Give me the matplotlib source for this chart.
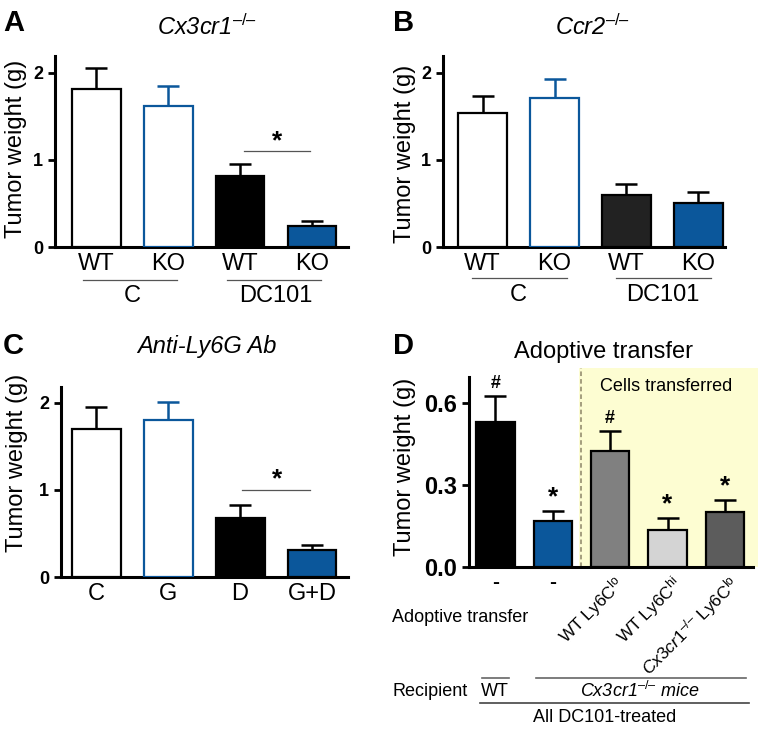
import matplotlib.pyplot as plt
from matplotlib.patches import Rectangle

plt.rcParams['font.family'] = ['Liberation Sans', 'DejaVu Sans']
plt.rcParams['mathtext.fontset'] = 'custom'
plt.rcParams['mathtext.rm'] = 'Liberation Sans'
plt.rcParams['mathtext.it'] = 'Liberation Sans:italic'
plt.rcParams['mathtext.bf'] = 'Liberation Sans:bold'

KO_SUP = r'$^{\text{–/–}}$'

# ---- data ----
# A: Cx3cr1-/-
a_ticks = ['WT', 'KO', 'WT', 'KO']
a_groups = ['C', 'DC101']
a_means = [1.82, 1.62, 0.82, 0.24]
a_errs = [0.24, 0.23, 0.13, 0.06]

# B: Ccr2-/-
b_ticks = ['WT', 'KO', 'WT', 'KO']
b_groups = ['C', 'DC101']
b_means = [1.54, 1.71, 0.60, 0.51]
b_errs = [0.19, 0.22, 0.12, 0.12]

# C: Anti-Ly6G Ab
c_ticks = ['C', 'G', 'D', 'G+D']
c_means = [1.70, 1.80, 0.68, 0.31]
c_errs = [0.25, 0.21, 0.15, 0.06]

# D: Adoptive transfer
d_ticks = ['-', '-', r'WT Ly6C$^{\text{lo}}$', r'WT Ly6C$^{\text{hi}}$',
           r'$\mathit{Cx3cr1}^{\text{–/–}}$ Ly6C$^{\text{lo}}$']
d_means = [0.530, 0.168, 0.424, 0.135, 0.200]
d_errs = [0.095, 0.037, 0.074, 0.045, 0.045]
d_marks = ['#', '*', '#', '*', '*']

BLUE = '#0b579b'
W, H = 762, 738


def px(x, y):
    # pixel position (from top-left) -> figure fraction
    return x / W, 1 - y / H


def make_axes(fig, left, right, bottom, top):
    x0, y0 = px(left, bottom)
    x1, y1 = px(right, top)
    ax = fig.add_axes([x0, y0, x1 - x0, y1 - y0])
    for s in ['top', 'right']:
        ax.spines[s].set_visible(False)
    for s in ['left', 'bottom']:
        ax.spines[s].set_linewidth(2.2)
    ax.tick_params(axis='y', direction='out', length=5, width=2)
    ax.tick_params(axis='x', length=0, labelbottom=False)
    return ax


def draw_bars(ax, means, errs, faces, edges, ecolors, width, capsize, lw=1.6):
    xs = range(len(means))
    for x, m, e, fc, ec, erc in zip(xs, means, errs, faces, edges, ecolors):
        ax.errorbar([x], [m], yerr=[[0], [e]], fmt='none', ecolor=erc,
                    elinewidth=1.8, capsize=capsize, capthick=1.8, zorder=2)
        ax.bar(x, m, width=width, color=fc, edgecolor=ec, linewidth=lw, zorder=3)


def bold_ticks(ax, ticks, labels, size=13):
    ax.set_yticks(ticks)
    ax.set_yticklabels(labels, fontweight='bold', fontsize=size)


fig = plt.figure(figsize=(W / 100, H / 100), dpi=100)

two_face = ['white', 'white', 'black', BLUE]
two_edge = ['black', BLUE, 'black', 'black']
two_err = ['black', BLUE, 'black', 'black']

# ---- panel A ----
axA = make_axes(fig, 55, 348, 247, 55.6)
draw_bars(axA, a_means, a_errs, two_face, two_edge, two_err, 0.68, 8)
axA.set_xlim(-0.57, 3.5)
axA.set_ylim(0, 2.2)
bold_ticks(axA, [0, 1, 2], ['0', '1', '2'])
for i, t in enumerate(a_ticks):
    axA.text(i, -0.2, t, ha='center', va='center', fontsize=17, clip_on=False)
for g, name in enumerate(a_groups):
    x0 = 2 * g
    axA.plot([x0 - 0.18, x0 + 1.13], [-0.38, -0.38], color='#555555', lw=0.9, clip_on=False)
    axA.text(x0 + 0.5, -0.56, name, ha='center', va='center', fontsize=17, clip_on=False)
axA.plot([2.05, 2.97], [1.1, 1.1], color='#555555', lw=0.9)
axA.text(2.51, 1.08, '*', ha='center', va='bottom', fontsize=19, fontweight='bold')

# ---- panel B ----
axB = make_axes(fig, 443, 725, 247, 55.6)
b_face = ['white', 'white', '#222222', BLUE]
draw_bars(axB, b_means, b_errs, b_face, two_edge, two_err, 0.68, 8)
axB.set_xlim(-0.55, 3.37)
axB.set_ylim(0, 2.2)
bold_ticks(axB, [0, 1, 2], ['0', '1', '2'])
for i, t in enumerate(b_ticks):
    axB.text(i, -0.2, t, ha='center', va='center', fontsize=17, clip_on=False)
for g, name in enumerate(b_groups):
    x0 = 2 * g
    axB.plot([x0 - 0.15, x0 + 1.18], [-0.36, -0.36], color='#555555', lw=0.9, clip_on=False)
    axB.text(x0 + 0.5, -0.55, name, ha='center', va='center', fontsize=17, clip_on=False)

# ---- panel C ----
axC = make_axes(fig, 61, 348, 577, 387)
draw_bars(axC, c_means, c_errs, two_face, two_edge, two_err, 0.68, 8)
axC.set_xlim(-0.49, 3.5)
axC.set_ylim(0, 2.18)
bold_ticks(axC, [0, 1, 2], ['0', '1', '2'])
for i, t in enumerate(c_ticks):
    axC.text(i, -0.19, t, ha='center', va='center', fontsize=17, clip_on=False)
axC.plot([2.03, 2.97], [1.0, 1.0], color='#555555', lw=0.9)
axC.text(2.51, 0.98, '*', ha='center', va='bottom', fontsize=19, fontweight='bold')

# ---- panel D ----
axD = make_axes(fig, 469, 753, 567, 377)
d_face = ['black', BLUE, '#808080', '#d4d4d4', '#5c5c5c']
d_edge = ['black'] * 5
draw_bars(axD, d_means, d_errs, d_face, d_edge, d_edge, 0.67, 8)
axD.set_xlim(-0.46, 4.49)
axD.set_ylim(0, 0.695)
bold_ticks(axD, [0, 0.3, 0.6], ['0.0', '0.3', '0.6'], size=17)
axD.add_patch(Rectangle((1.45, 0), 3.12, 0.728, facecolor='#fdfdd2',
                        edgecolor='none', zorder=0, clip_on=False))
axD.plot([1.5, 1.5], [0, 0.728], color='#8c8468', lw=1.1, ls=(0, (3, 2)),
         zorder=1, clip_on=False)
axD.text(2.97, 0.66, 'Cells transferred', ha='center', va='center', fontsize=13)
for i, (m, e, mk) in enumerate(zip(d_means, d_errs, d_marks)):
    axD.annotate(mk, (i, m + e), xytext=(0, 1 if mk == '*' else 3),
                 textcoords='offset points', ha='center', va='bottom',
                 fontsize=19 if mk == '*' else 13, fontweight='bold')
for i, t in enumerate(d_ticks):
    if t == '-':
        axD.text(i, -0.055, t, ha='center', va='center', fontsize=15,
                 fontweight='bold', clip_on=False)
    else:
        axD.text(i + 0.05, -0.022, t, ha='right', va='top', rotation=45,
                 rotation_mode='anchor', fontsize=12.5, clip_on=False)

# recipient rows
axD.plot([-0.24, 0.24], [-0.405, -0.405], color='#666666', lw=1.2, clip_on=False)
axD.plot([0.71, 4.36], [-0.405, -0.405], color='#666666', lw=1.2, clip_on=False)
axD.plot([-0.27, 4.42], [-0.499, -0.499], color='#444444', lw=1.2, clip_on=False)

# ---- titles, labels, panel letters ----
for (x, y), t, st in [((207, 27), 'Cx3cr1' + KO_SUP, 'italic'),
                      ((593, 27), 'Ccr2' + KO_SUP, 'italic'),
                      ((207, 347), 'Anti-Ly6G Ab', 'italic'),
                      ((603, 352), 'Adoptive transfer', 'normal')]:
    fig.text(*px(x, y), t, ha='center', va='center', fontsize=17, style=st)

for (x, y) in [(16, 149), (405, 154), (17, 463), (405, 467)]:
    fig.text(*px(x, y), 'Tumor weight (g)', rotation=90, ha='center', va='center',
             fontsize=17)

for (x, y), t in [((3, 23), 'A'), ((393, 23), 'B'), ((3, 346), 'C'), ((393, 346), 'D')]:
    fig.text(*px(x, y), t, ha='left', va='center', fontsize=21, fontweight='heavy')

fig.text(*px(392, 618), 'Adoptive transfer', ha='left', va='center', fontsize=13)
fig.text(*px(392, 691), 'Recipient', ha='left', va='center', fontsize=13)
fig.text(*px(495, 691), 'WT', ha='center', va='center', fontsize=13)
fig.text(*px(640, 691), 'Cx3cr1' + KO_SUP + ' mice', ha='center',
         va='center', fontsize=13, style='italic')
fig.text(*px(605, 717), 'All DC101-treated', ha='center', va='center', fontsize=13)

fig.savefig('out.png', dpi=100)
